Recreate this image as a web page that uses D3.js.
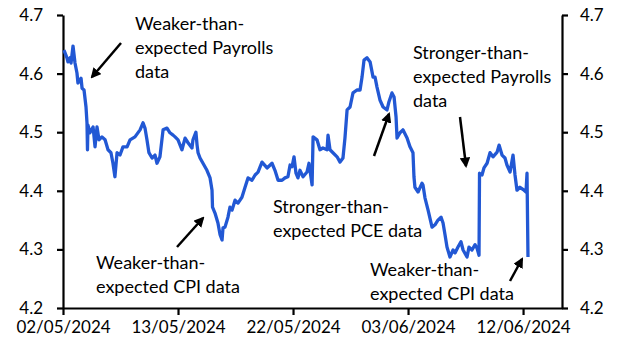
<!DOCTYPE html>
<html>
<head>
<meta charset="utf-8">
<script src="https://cdn.jsdelivr.net/npm/d3@7"></script>
<style>
  html, body { margin: 0; padding: 0; background: #fff; }
  svg { display: block; font-family: Lato, "Open Sans", sans-serif; }
</style>
</head>
<body>
<div id="chart"></div>
<script>
// trading-day index since 02/05/2024 (intraday points are fractional)
const tradingDay = [
    0.06, 0.24, 0.30, 0.43, 0.49, 0.61, 0.73, 0.85, 0.91, 1.10, 1.16, 1.28, 1.40, 1.46, 1.49, 1.52,
    1.64, 1.83, 1.95, 2.07, 2.19, 2.37, 2.56, 2.74, 2.92, 3.04, 3.16, 3.29, 3.47, 3.65, 3.90, 4.08,
    4.38, 4.69, 4.87, 4.99, 5.11, 5.23, 5.42, 5.60, 5.72, 5.90, 6.09, 6.33, 6.51, 6.70,
    6.82, 7.00, 7.24, 7.43, 7.61, 7.85, 7.91, 8.09, 8.16, 8.22, 8.34, 8.52, 8.76, 8.95, 9.07, 9.10,
    9.25, 9.43, 9.56, 9.68, 9.74, 9.86, 10.04, 10.16, 10.29, 10.47, 10.65, 10.89, 11.08, 11.26, 11.50,
    11.69, 11.87, 12.11, 12.42, 12.72, 12.90, 13.09, 13.33, 13.51, 13.69,
    13.82, 13.94, 14.06, 14.18, 14.30, 14.42, 14.61, 14.85, 14.97, 15.16, 15.22, 15.46, 15.64, 15.82,
    16.07, 16.13, 16.25, 16.43, 16.68, 16.86, 17.04, 17.16, 17.29, 17.47, 17.65, 17.89, 18.08, 18.20,
    18.32, 18.50, 18.69, 18.87, 18.99, 19.11, 19.29, 19.48, 19.72, 19.84, 20.02, 20.15, 20.27, 20.33,
    20.51, 20.69, 20.94, 21.12, 21.30, 21.36, 21.42, 21.61, 21.85, 21.91, 22.03, 22.22, 22.46, 22.64,
    22.82, 23.01, 23.13, 23.25, 23.37, 23.55, 23.74, 23.86, 24.04, 24.22, 24.35, 24.59, 24.71, 24.89,
    25.08, 25.20, 25.32, 25.35, 25.50, 25.62, 25.81, 25.99, 26.17, 26.42, 26.54, 26.72, 26.90, 27.02,
    27.21, 27.39, 27.51, 27.63, 27.81, 28.06, 28.18, 28.24, 28.30
];

// 10y Treasury yield, %
const yieldPct = [
    4.640, 4.627, 4.620, 4.627, 4.618, 4.647, 4.618, 4.601, 4.584, 4.592, 4.575, 4.572, 4.543, 4.516, 4.470, 4.512,
    4.499, 4.509, 4.475, 4.509, 4.487, 4.492, 4.487, 4.470, 4.465, 4.447, 4.424, 4.465, 4.461, 4.475, 4.475, 4.487,
    4.492, 4.504, 4.516, 4.507, 4.487, 4.465, 4.456, 4.461, 4.447, 4.458, 4.504, 4.507, 4.499, 4.495,
    4.492, 4.487, 4.470, 4.490, 4.482, 4.473, 4.487, 4.500, 4.478, 4.465, 4.456, 4.447, 4.435, 4.422, 4.401, 4.372,
    4.362, 4.345, 4.325, 4.316, 4.337, 4.338, 4.355, 4.372, 4.367, 4.384, 4.379, 4.389, 4.406, 4.422, 4.418,
    4.427, 4.432, 4.449, 4.439, 4.447, 4.435, 4.418, 4.418, 4.422, 4.424,
    4.444, 4.441, 4.458, 4.430, 4.422, 4.435, 4.424, 4.432, 4.447, 4.410, 4.492, 4.487, 4.470, 4.473,
    4.470, 4.495, 4.470, 4.465, 4.458, 4.449, 4.456, 4.490, 4.538, 4.543, 4.567, 4.572, 4.572, 4.594,
    4.623, 4.627, 4.620, 4.594, 4.594, 4.577, 4.555, 4.543, 4.538, 4.552, 4.567, 4.560, 4.526, 4.490,
    4.499, 4.504, 4.490, 4.475, 4.465, 4.424, 4.406, 4.398, 4.413, 4.410, 4.388, 4.367, 4.338, 4.342,
    4.350, 4.355, 4.345, 4.325, 4.304, 4.287, 4.299, 4.294, 4.304, 4.313, 4.299, 4.287, 4.304, 4.299,
    4.308, 4.302, 4.290, 4.430, 4.427, 4.439, 4.447, 4.465, 4.458, 4.466, 4.478, 4.461, 4.456, 4.444,
    4.432, 4.461, 4.427, 4.401, 4.406, 4.401, 4.398, 4.430, 4.287
];

const xTickDays = [0, 7, 14, 21, 28];
const xTickLabels = ['02/05/2024', '13/05/2024', '22/05/2024', '03/06/2024', '12/06/2024'];
const yTicks = [4.2, 4.3, 4.4, 4.5, 4.6, 4.7];

const WIDTH = 629;
const HEIGHT = 354;
const LEFT = 63, RIGHT = 562, TOP = 15, BOTTOM = 308;
const LINE_COLOR = '#2258d4';

// annotation text + arrow (pixel layout)
const notes = [
    { lines: ['Weaker-than-', 'expected Payrolls', 'data'], x: 135, y: 30, arrow: [121, 43, 92, 77] },
    { lines: ['Stronger-than-', 'expected Payrolls', 'data'], x: 413, y: 59, arrow: [460, 117, 466, 166] },
    { lines: ['Stronger-than-', 'expected PCE data'], x: 273, y: 213, arrow: [374, 156, 389, 114] },
    { lines: ['Weaker-than-', 'expected CPI data'], x: 96, y: 269, arrow: [177, 247, 203, 218] },
    { lines: ['Weaker-than-', 'expected CPI data'], x: 370, y: 276, arrow: [510, 281, 522, 259] }
];

const svg = d3.select('#chart').append('svg')
    .attr('width', WIDTH)
    .attr('height', HEIGHT);

svg.append('defs').append('marker')
    .attr('id', 'head')
    .attr('viewBox', '0 0 10 10')
    .attr('refX', 8).attr('refY', 5)
    .attr('markerWidth', 4.2).attr('markerHeight', 4.2)
    .attr('markerUnits', 'strokeWidth')
    .attr('orient', 'auto')
    .append('path')
    .attr('d', 'M0,0 L10,5 L0,10 Z')
    .attr('fill', '#000');

const x = d3.scaleLinear().domain([0, 30.37]).range([LEFT, RIGHT]);
const y = d3.scaleLinear().domain([4.2, 4.7]).range([BOTTOM, TOP]);

// axes
const axisLeft = d3.axisLeft(y).tickValues(yTicks).tickFormat(d3.format('.1f')).tickSize(6).tickPadding(14);
const axisRight = d3.axisRight(y).tickValues(yTicks).tickFormat(d3.format('.1f')).tickSize(6).tickPadding(12);
const axisBottom = d3.axisBottom(x).tickValues(xTickDays)
    .tickFormat((d, i) => xTickLabels[i]).tickSize(7).tickPadding(6);

function styleAxis(g) {
    g.select('.domain').attr('stroke', '#000').attr('stroke-width', 2.2);
    g.selectAll('.tick line').attr('stroke', '#000').attr('stroke-width', 2.2);
    g.selectAll('.tick text').attr('fill', '#000').style('font-size', '17px').style('font-family', 'Lato, sans-serif');
}

svg.append('g').attr('transform', `translate(${LEFT},0)`).call(axisLeft.tickSizeOuter(0)).call(styleAxis);
svg.append('g').attr('transform', `translate(${RIGHT},0)`).call(axisRight.tickSizeOuter(0)).call(styleAxis);
svg.append('g').attr('transform', `translate(0,${BOTTOM})`).call(axisBottom.tickSizeOuter(0)).call(styleAxis);

// yield line
const points = tradingDay.map((d, i) => [d, yieldPct[i]]);
const line = d3.line().x(d => x(d[0])).y(d => y(d[1]));

svg.append('path')
    .datum(points)
    .attr('fill', 'none')
    .attr('stroke', LINE_COLOR)
    .attr('stroke-width', 3.3)
    .attr('stroke-linejoin', 'round')
    .attr('d', line);

// annotations
notes.forEach(n => {
    const t = svg.append('text')
        .attr('x', n.x).attr('y', n.y)
        .attr('fill', '#000')
        .style('font-size', '18px')
        .style('font-family', 'Lato, sans-serif');
    n.lines.forEach((s, i) => {
        t.append('tspan').attr('x', n.x).attr('dy', i === 0 ? 0 : 24).text(s);
    });
    svg.append('line')
        .attr('x1', n.arrow[0]).attr('y1', n.arrow[1])
        .attr('x2', n.arrow[2]).attr('y2', n.arrow[3])
        .attr('stroke', '#000')
        .attr('stroke-width', 2.5)
        .attr('marker-end', 'url(#head)');
});
</script>
</body>
</html>
